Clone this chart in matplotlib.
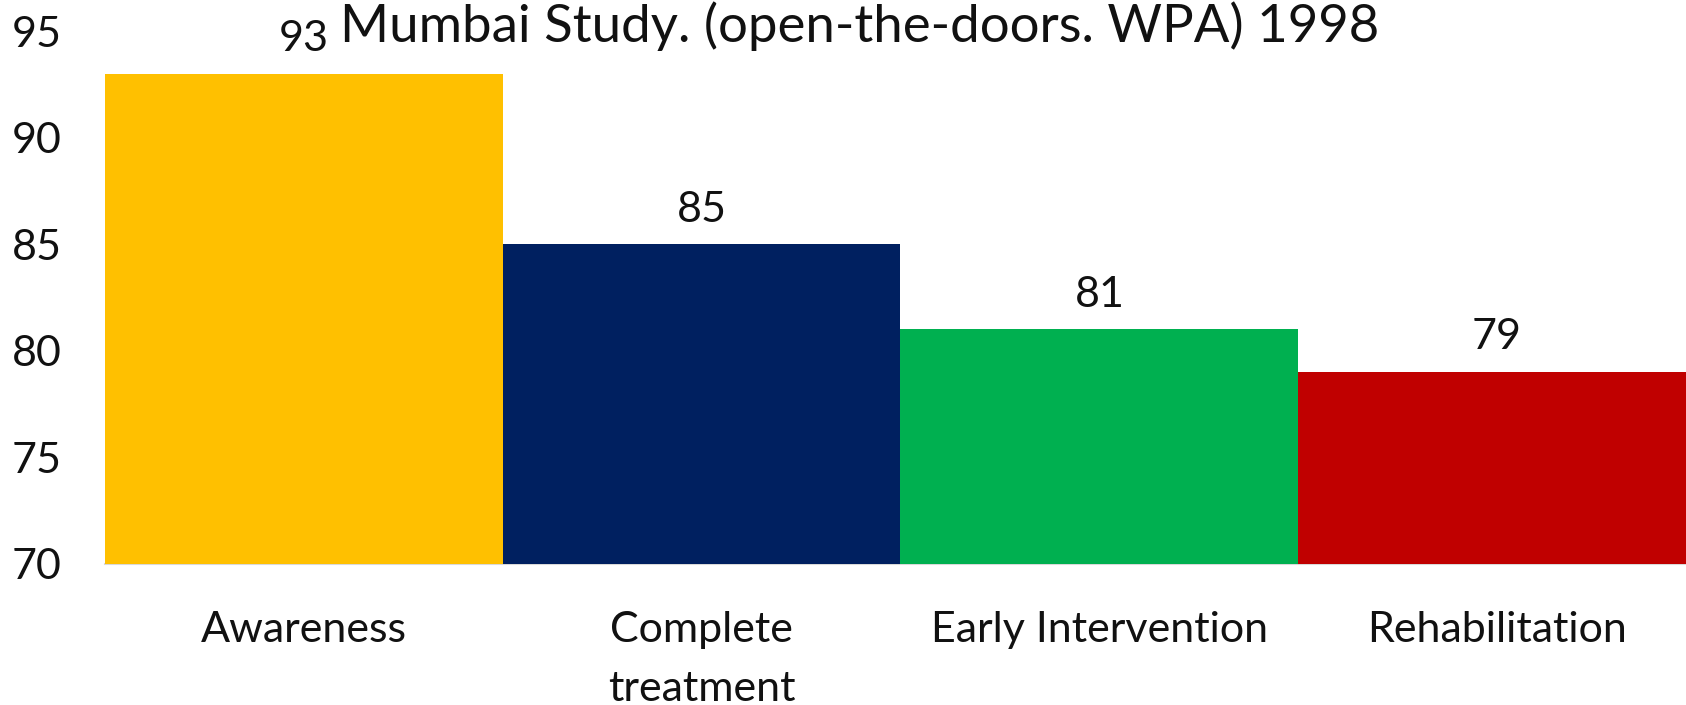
import matplotlib
matplotlib.use("Agg")
import matplotlib.pyplot as plt

# Data
categories = ['Awareness', 'Complete\ntreatment', 'Early Intervention', 'Rehabilitation']
values = [93, 85, 81, 79]
colors = ['#FFC000', '#002060', '#00B050', '#C00000']
title = 'Mumbai Study. (open-the-doors. WPA) 1998'

plt.rcParams['font.family'] = ['Lato', 'DejaVu Sans']
text_color = '#111111'

fig = plt.figure(figsize=(16.86, 7.05), dpi=100)
# axes placed to match the reference layout (pixels -> fractions)
ax = fig.add_axes([105 / 1686, 1 - 563.5 / 705, 1 - 105 / 1686, (563.5 - 31.5) / 705])

x = range(len(categories))
ax.bar(x, values, width=1.0, color=colors, bottom=0)
ax.set_ylim(70, 95)
ax.set_xlim(-0.5, 3.475)

# value labels above the bars
for xi, v in zip(x, values):
    ax.annotate(str(v), (xi, v), xytext=(0, 25), textcoords='offset points',
                ha='center', va='center', fontsize=31, color=text_color)

ax.set_yticks([70, 75, 80, 85, 90, 95])
ax.set_xticks(list(x))
ax.set_xticklabels(categories, linespacing=1.68)
ax.tick_params(axis='both', length=0, labelsize=31, colors=text_color)
ax.tick_params(axis='y', pad=31)
ax.tick_params(axis='x', pad=34)

for side in ['top', 'right', 'left']:
    ax.spines[side].set_visible(False)
ax.spines['bottom'].set_color('#d9d9d9')
ax.spines['bottom'].set_linewidth(1.5)
ax.spines['bottom'].set_zorder(0)

fig.text(860 / 1686, 1 - 26 / 705, title, ha='center', va='center',
         fontsize=38, color=text_color)

fig.savefig('out.png', dpi=100)
